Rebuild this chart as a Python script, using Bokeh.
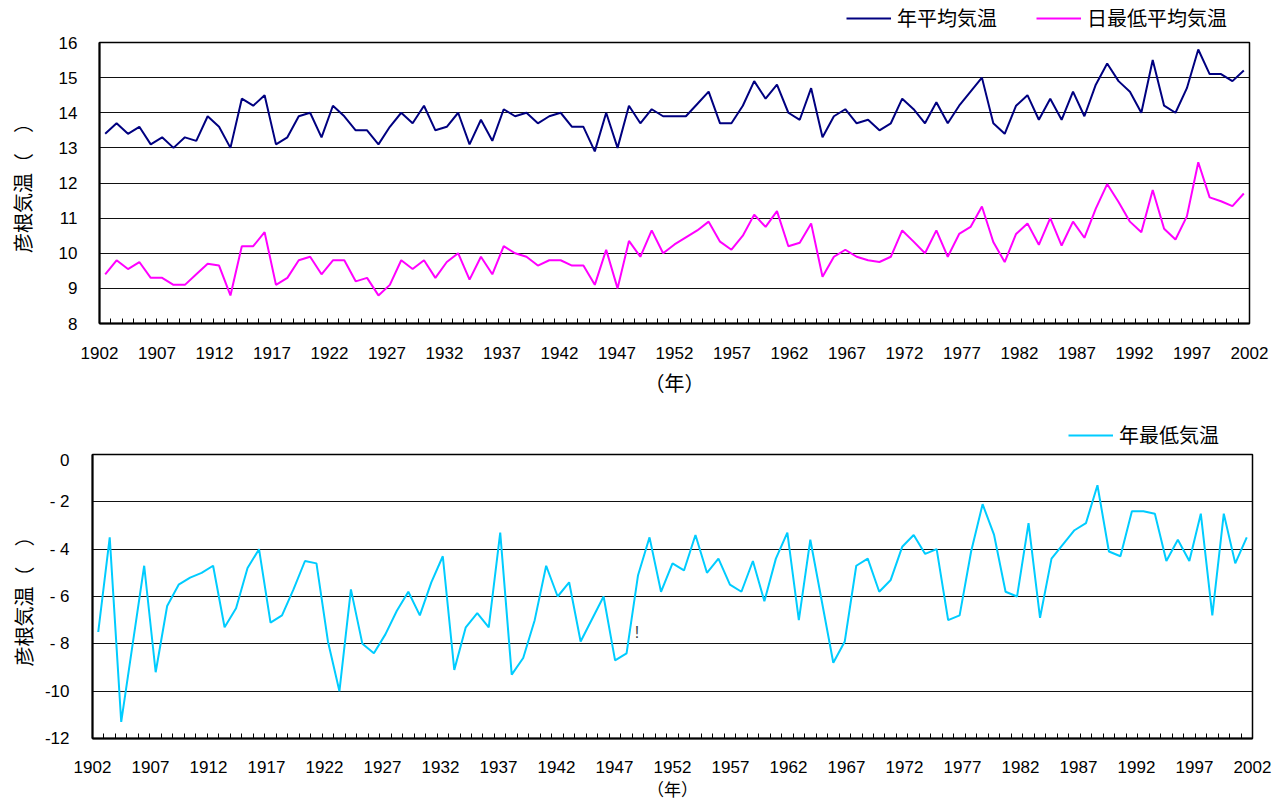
import numpy as np
from bokeh.plotting import figure
from bokeh.models import FixedTicker, Legend, LegendItem, Label, Range1d
from bokeh.embed import file_html
from bokeh.resources import INLINE

years = list(range(1902, 2003))

annual_mean = [
    13.4, 13.7, 13.4, 13.6, 13.1, 13.3, 13.0, 13.3, 13.2, 13.9,   # 1902-1911
    13.6, 13.0, 14.4, 14.2, 14.5, 13.1, 13.3, 13.9, 14.0, 13.3,   # 1912-1921
    14.2, 13.9, 13.5, 13.5, 13.1, 13.6, 14.0, 13.7, 14.2, 13.5,   # 1922-1931
    13.6, 14.0, 13.1, 13.8, 13.2, 14.1, 13.9, 14.0, 13.7, 13.9,   # 1932-1941
    14.0, 13.6, 13.6, 12.9, 14.0, 13.0, 14.2, 13.7, 14.1, 13.9,   # 1942-1951
    13.9, 13.9, 14.25, 14.6, 13.7, 13.7, 14.2, 14.9, 14.4, 14.8,  # 1952-1961
    14.0, 13.8, 14.7, 13.3, 13.9, 14.1, 13.7, 13.8, 13.5, 13.7,   # 1962-1971
    14.4, 14.1, 13.7, 14.3, 13.7, 14.2, 14.6, 15.0, 13.7, 13.4,   # 1972-1981
    14.2, 14.5, 13.8, 14.4, 13.8, 14.6, 13.9, 14.8, 15.4, 14.9,   # 1982-1991
    14.6, 14.0, 15.5, 14.2, 14.0, 14.7, 15.8, 15.1, 15.1, 14.9,   # 1992-2001
    15.2,                                                         # 2002
]

daily_min_mean = [
    9.4, 9.8, 9.55, 9.75, 9.3, 9.3, 9.1, 9.1, 9.4, 9.7,           # 1902-1911
    9.65, 8.8, 10.2, 10.2, 10.6, 9.1, 9.3, 9.8, 9.9, 9.4,         # 1912-1921
    9.8, 9.8, 9.2, 9.3, 8.8, 9.1, 9.8, 9.55, 9.8, 9.3,            # 1922-1931
    9.75, 10.0, 9.25, 9.9, 9.4, 10.2, 10.0, 9.9, 9.65, 9.8,       # 1932-1941
    9.8, 9.65, 9.65, 9.1, 10.1, 9.0, 10.35, 9.9, 10.65, 10.0,     # 1942-1951
    10.25, 10.45, 10.65, 10.9, 10.33, 10.1, 10.5, 11.1, 10.75, 11.2,  # 1952-1961
    10.2, 10.3, 10.85, 9.33, 9.9, 10.1, 9.9, 9.8, 9.75, 9.9,      # 1962-1971
    10.65, 10.33, 10.0, 10.65, 9.9, 10.55, 10.75, 11.33, 10.32, 9.75,  # 1972-1981
    10.55, 10.85, 10.24, 11.0, 10.22, 10.9, 10.44, 11.27, 11.97, 11.46,  # 1982-1991
    10.9, 10.6, 11.8, 10.7, 10.39, 11.05, 12.59, 11.59, 11.48, 11.34,  # 1992-2001
    11.7,                                                         # 2002
]

annual_min = [
    -7.5, -3.5, -11.3, -8.0, -4.7, -9.2, -6.4, -5.5, -5.2, -5.0,  # 1902-1911
    -4.7, -7.3, -6.5, -4.8, -4.0, -7.1, -6.8, -5.7, -4.5, -4.6,   # 1912-1921
    -7.9, -10.0, -5.7, -8.0, -8.4, -7.6, -6.6, -5.8, -6.8, -5.4,  # 1922-1931
    -4.3, -9.1, -7.3, -6.7, -7.3, -3.3, -9.3, -8.6, -7.0, -4.7,   # 1932-1941
    -6.0, -5.4, -7.9, -6.95, -6.0, -8.7, -8.4, -5.1, -3.5, -5.8,  # 1942-1951
    -4.6, -4.9, -3.4, -5.0, -4.4, -5.5, -5.8, -4.5, -6.2, -4.4,   # 1952-1961
    -3.3, -7.0, -3.6, -6.2, -8.8, -7.9, -4.7, -4.4, -5.8, -5.3,   # 1962-1971
    -3.9, -3.4, -4.2, -4.0, -7.0, -6.8, -4.1, -2.1, -3.4, -5.8,   # 1972-1981
    -6.0, -2.9, -6.9, -4.4, -3.8, -3.2, -2.9, -1.3, -4.1, -4.3,   # 1982-1991
    -2.4, -2.4, -2.5, -4.5, -3.6, -4.5, -2.5, -6.8, -2.5, -4.6,   # 1992-2001
    -3.5,                                                         # 2002
]

x_tick_years = list(range(1902, 2003, 5))
top_y_ticks = list(range(8, 17))
bottom_y_ticks = list(range(-12, 1, 2))
bottom_y_labels = {0: "0", -2: "- 2", -4: "- 4", -6: "- 6", -8: "- 8", -10: "-10", -12: "-12"}

series_names = ["年平均気温", "日最低平均気温", "年最低気温"]
series_colors = ["#000080", "#FF00FF", "#00CCFF"]
y_title = "彦根気温（　）"
x_title = "（年）"

NUM_FONT = "Liberation Sans"
CJK_FONT = "Noto Sans CJK JP"
W = 1279

# x range covers one category per year; year labels are spread edge to edge as in the source chart
X_LO, X_HI = years[0] - 0.5, years[-1] + 0.5
span = (X_HI - X_LO) / (years[-1] - years[0])
label_pos = {round(X_LO + (y - years[0]) * span, 4): str(y) for y in x_tick_years}


def style_axes(p, y_ticks, y_label_overrides=None, ylab_standoff=16, ytitle_standoff=19,
               xlab_standoff=17, xtitle_standoff=6, xtitle_size="20px"):
    p.outline_line_color = "black"
    p.outline_line_width = 1.5
    p.background_fill_color = "white"
    p.border_fill_color = "white"

    xa = p.xaxis[0]
    xa.ticker = FixedTicker(ticks=list(label_pos.keys()),
                            minor_ticks=[y + 0.5 for y in years[:-1]])
    xa.major_label_overrides = label_pos
    xa.major_tick_line_color = None
    xa.minor_tick_line_color = "black"
    xa.minor_tick_in = 5
    xa.minor_tick_out = 0
    xa.axis_line_color = "black"
    xa.axis_line_width = 2
    xa.major_label_text_font = NUM_FONT
    xa.major_label_text_font_size = "17px"
    xa.major_label_text_color = "black"
    xa.major_label_standoff = xlab_standoff
    xa.axis_label = x_title
    xa.axis_label_text_font = CJK_FONT
    xa.axis_label_text_font_size = xtitle_size
    xa.axis_label_text_font_style = "normal"
    xa.axis_label_text_color = "black"
    xa.axis_label_standoff = xtitle_standoff

    ya = p.yaxis[0]
    ya.ticker = FixedTicker(ticks=y_ticks)
    if y_label_overrides:
        ya.major_label_overrides = y_label_overrides
    ya.major_tick_line_color = None
    ya.minor_tick_line_color = None
    ya.axis_line_color = "black"
    ya.axis_line_width = 2
    ya.major_label_text_font = NUM_FONT
    ya.major_label_text_font_size = "17px"
    ya.major_label_text_color = "black"
    ya.major_label_standoff = ylab_standoff
    ya.axis_label = y_title
    ya.axis_label_text_font = CJK_FONT
    ya.axis_label_text_font_size = "20px"
    ya.axis_label_text_font_style = "normal"
    ya.axis_label_text_color = "black"
    ya.axis_label_standoff = ytitle_standoff

    p.xgrid.visible = False
    p.ygrid.grid_line_color = "#111111"
    p.ygrid.grid_line_width = 1


def legend_strip(height, left, top, names, colors):
    """A thin strip above a chart that carries its legend (legend sits at the strip frame's top-left)."""
    s = figure(width=W, height=height, output_backend="svg", toolbar_location=None,
               x_axis_type=None, y_axis_type=None,
               x_range=Range1d(0, 1), y_range=Range1d(0, 1),
               min_border_left=left, min_border_right=0, min_border_top=top, min_border_bottom=0)
    s.outline_line_color = None
    s.background_fill_color = "white"
    s.border_fill_color = "white"
    items = []
    for name, color in zip(names, colors):
        # legend key only: a single NaN point, nothing is drawn in the strip itself
        r = s.line(x=np.array([np.nan]), y=np.array([np.nan]), line_color=color, line_width=2)
        items.append(LegendItem(label=name, renderers=[r]))
    lg = Legend(items=items, location="top_left", orientation="horizontal",
                glyph_width=45, glyph_height=20, label_standoff=6, spacing=39,
                padding=0, margin=0, border_line_color=None, background_fill_alpha=0,
                label_text_font=CJK_FONT, label_text_font_size="20px", label_text_color="black")
    s.add_layout(lg, "center")
    return s


# legend strip 1: page y 0..32
leg1 = legend_strip(32, 846, 3, series_names[:2], series_colors[:2])

# top chart: page y 32..405, frame x 99..1249, y 42..323
p1 = figure(width=W, height=373, output_backend="svg", toolbar_location=None,
            x_range=Range1d(X_LO, X_HI), y_range=Range1d(8, 16),
            min_border_left=99, min_border_right=30, min_border_top=10, min_border_bottom=82)
style_axes(p1, top_y_ticks, ylab_standoff=16, ytitle_standoff=19, xlab_standoff=17, xtitle_standoff=6)
p1.line(years, annual_mean, line_color=series_colors[0], line_width=2)
p1.line(years, daily_min_mean, line_color=series_colors[1], line_width=2)

# legend strip 2: page y 405..450
leg2 = legend_strip(45, 1068, 15, series_names[2:], series_colors[2:])

# bottom chart: page y 450..805, frame x 92..1252, y 454..738
p2 = figure(width=W, height=355, output_backend="svg", toolbar_location=None,
            x_range=Range1d(X_LO, X_HI), y_range=Range1d(-12, 0),
            min_border_left=92, min_border_right=27, min_border_top=4, min_border_bottom=67)
style_axes(p2, bottom_y_ticks, bottom_y_labels, ylab_standoff=17, ytitle_standoff=4,
           xlab_standoff=16, xtitle_standoff=0, xtitle_size="17px")
p2.line(years, annual_min, line_color=series_colors[2], line_width=2)
p2.add_layout(Label(x=1948.9, y=-7.5, text="!", text_align="center", text_baseline="middle",
                    text_font=NUM_FONT, text_font_size="16px", text_color="#404040"))

# separate roots stacked vertically, so that each chart keeps its own frame offsets
with open("out.html", "w") as f:
    f.write(file_html([leg1, p1, leg2, p2], INLINE))
